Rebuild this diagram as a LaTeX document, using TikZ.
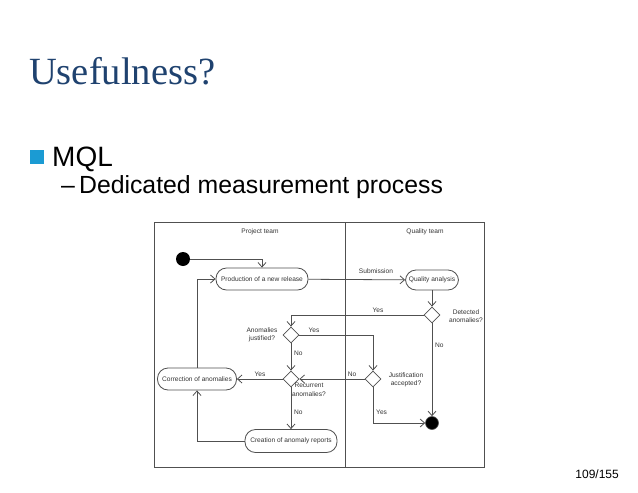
\documentclass[tikz,border=0pt]{standalone}
\usepackage{fontspec}
\setmainfont{Liberation Serif}
\setsansfont{Liberation Sans}
\usetikzlibrary{arrows.meta,shapes.geometric}
\definecolor{titleblue}{HTML}{1F426F}
\definecolor{bulletblue}{HTML}{1B9BD3}
\definecolor{lnc}{HTML}{505050}
\definecolor{txc}{HTML}{333333}
\tikzset{
  act/.style={draw=lnc,rectangle,rounded corners=10.5pt,minimum height=22pt,inner sep=1pt,font=\sffamily\fontsize{6.6}{8}\selectfont,text=txc,line width=0.8pt},
  dec/.style={draw=lnc,diamond,minimum width=16pt,minimum height=16pt,inner sep=0pt,line width=0.8pt},
  flow/.style={draw=lnc,line width=0.8pt,-{Straight Barb[length=4.5pt,width=8pt]}},
  lbl/.style={font=\sffamily\fontsize{6.6}{8.5}\selectfont,text=txc,inner sep=0pt,align=center},
}
\begin{document}
\begin{tikzpicture}[x=1pt,y=-1pt]
\useasboundingbox (0,0) rectangle (638,493);
% slide text
\node[anchor=base west,inner sep=0pt,text=titleblue,font=\fontsize{38.5}{42}\selectfont] (title) at (29,84) {Usefulness?};
\fill[bulletblue] (30,150) rectangle (43.5,164);
\node[anchor=base west,inner sep=0pt,font=\sffamily\fontsize{28}{30}\selectfont] (mql) at (52,166) {MQL};
\node[anchor=base west,inner sep=0pt,font=\sffamily\fontsize{24.8}{28}\selectfont] (sub) at (61,193) {–\,Dedicated measurement process};
\node[anchor=base east,inner sep=0pt,font=\sffamily\fontsize{12}{14}\selectfont] (page) at (619,478) {109/155};
% swimlanes
\draw[lnc,line width=0.8pt] (154,222) rectangle (484,467);
\draw[lnc,line width=0.8pt] (345,222) -- (345,467);
\node[lbl] (pt) at (260,232) {Project team};
\node[lbl] (qt) at (425,232) {Quality team};
% nodes
\node[circle,fill=black,minimum size=14pt,inner sep=0pt] (start) at (183,259) {};
\node[act,minimum width=92pt] (prod) at (262,279) {Production of a new release};
\node[act,minimum width=53pt,minimum height=20pt] (qa) at (432,280) {Quality analysis};
\node[dec] (det) at (432,315) {};
\node[dec] (aj) at (291,335) {};
\node[dec] (just) at (373,379) {};
\node[dec] (rec) at (291,379) {};
\node[act,minimum width=79pt] (corr) at (197,379) {Correction of anomalies};
\node[act,minimum width=92pt,minimum height=23pt] (creat) at (291,441) {Creation of anomaly reports};
\node[circle,fill=black,draw=lnc,line width=0.6pt,minimum size=13pt,inner sep=0pt] (end) at (432,423) {};
% decision labels
\node[lbl] (detl) at (466,316) {Detected\\anomalies?};
\node[lbl] (ajl) at (262,335) {Anomalies\\justified?};
\node[lbl] (justl) at (406,380) {Justification\\accepted?};
\node[lbl] (recl) at (309,390) {Recurrent\\anomalies?};
% flow labels
\node[lbl] (l1) at (376,271) {Submission};
\node[lbl] (l2) at (378,310) {Yes};
\node[lbl,anchor=west] (l3) at (435,345) {No};
\node[lbl] (l4) at (314,330) {Yes};
\node[lbl,anchor=west] (l5) at (294,353) {No};
\node[lbl] (l6) at (352,374) {No};
\node[lbl,anchor=west] (l7) at (376,412) {Yes};
\node[lbl] (l8) at (260,374) {Yes};
\node[lbl,anchor=west] (l9) at (294,412) {No};
% flows
\draw[flow] (start) -| (prod);
\draw[flow] (prod) -- (qa);
\draw[flow] (qa) -- (det);
\draw[flow] (det) -| (aj);
\draw[flow] (det) -- (end);
\draw[flow] (aj) -| (just);
\draw[flow] (aj) -- (rec);
\draw[flow] (just) -- (rec);
\draw[flow] (just) |- (end);
\draw[flow] (rec) -- (corr);
\draw[flow] (rec) -- (creat);
\draw[flow] (creat) -| (corr);
\draw[flow] (corr) |- (prod);
\end{tikzpicture}
\end{document}
